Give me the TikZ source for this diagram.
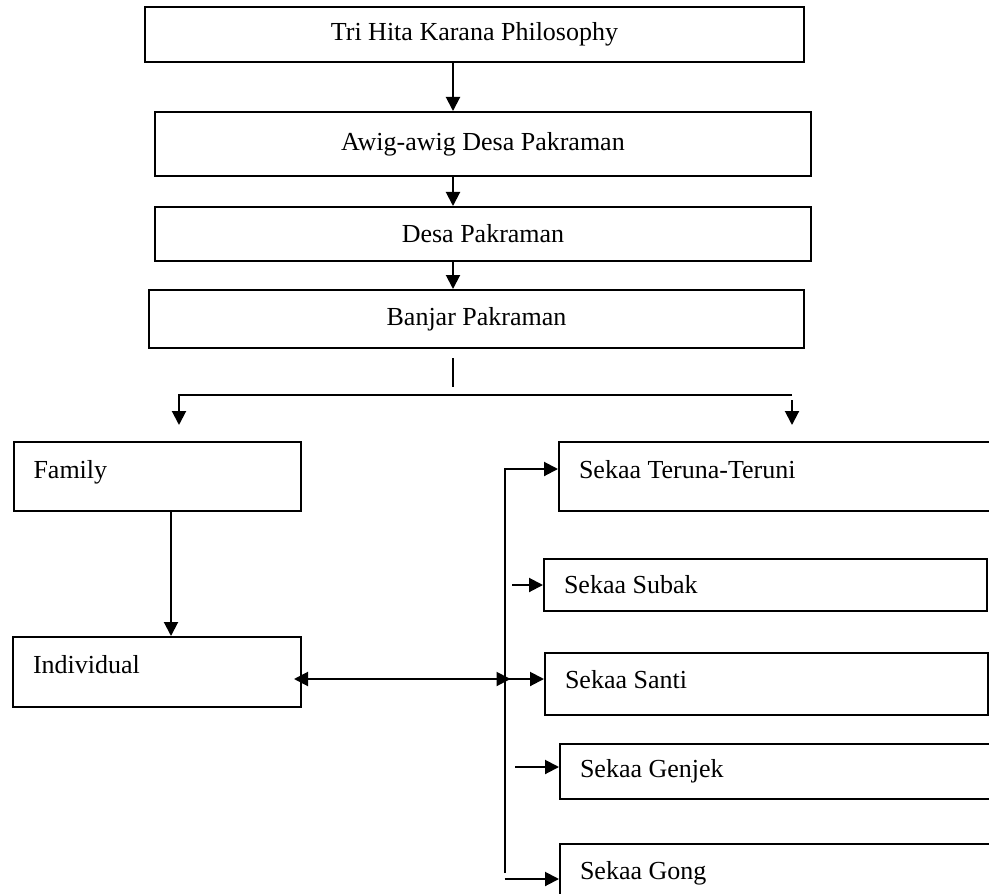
\documentclass[tikz,border=0pt]{standalone}
\usepackage{fontspec}
\setmainfont{Liberation Serif}
\usepackage{tikz}
\usetikzlibrary{arrows.meta,calc,positioning}

\begin{document}
\begin{tikzpicture}[x=0.5pt,y=-0.5pt,
    font=\fontsize{13pt}{15pt}\selectfont,
    >={Triangle[length=7pt,width=7pt]},
    block/.style={rectangle,draw,line width=1pt,inner sep=0pt},
    leftblock/.style={block,anchor=north west,align=flush left,inner xsep=10pt},
    connector/.style={->,line width=1pt},
    both/.style={<->,line width=1pt},
    line/.style={line width=1pt}]
    \useasboundingbox (0,0) rectangle (989,893);
    \clip (0,0) rectangle (989,893);
    % Top chain, one block under the other
    \node (philosophy) [block,minimum width=329.5pt,minimum height=27.5pt] at (474.5,34.5) {Tri Hita Karana Philosophy};
    \node (awig) [block,minimum width=328pt,minimum height=32pt] at (483,144) {Awig-awig Desa Pakraman};
    \node (desa) [block,minimum width=328pt,minimum height=27pt] at (483,234) {Desa Pakraman};
    \node (banjar) [block,minimum width=327.5pt,minimum height=29pt] at (476.5,319) {Banjar Pakraman};
    % Left column
    \node (family) [leftblock,text width=123.75pt,minimum height=34.5pt,text depth=7.5pt] at (12.5,441) {Family};
    \node (individual) [leftblock,text width=124pt,minimum height=35pt,text depth=7.5pt] at (12,636) {Individual};
    % Right column, boxes run past the page edge
    \node (teruna) [leftblock,text width=206pt,minimum height=34.5pt,text depth=7.5pt] at (558,441) {Sekaa Teruna-Teruni};
    \node (subak) [leftblock,text width=201.5pt,minimum height=26pt] at (543,558) {Sekaa Subak};
    \node (santi) [leftblock,text width=201.5pt,minimum height=31pt,text depth=5pt] at (544,652) {Sekaa Santi};
    \node (genjek) [leftblock,text width=205.5pt,minimum height=27.5pt] at (559,743) {Sekaa Genjek};
    \node (gong) [leftblock,text width=205.5pt,minimum height=29pt] at (559,843) {Sekaa Gong};

    % Helper coordinates for the free line ends
    \coordinate (stem) at (453,0);
    \coordinate (split_top) at (453,358);
    \coordinate (split_bot) at (453,387);
    \coordinate (split_left) at (179,395);
    \coordinate (split_right) at (792,395);
    \coordinate (family_in) at (179,425);
    \coordinate (teruna_out) at (792,400);
    \coordinate (teruna_in) at (792,425);
    \coordinate (down) at (171,0);
    \coordinate (bus_top) at (504.5,469);
    \coordinate (bus_bot) at (504.5,873);
    \coordinate (hub) at (504.5,679);
    \coordinate (subak_out) at (512,585);
    \coordinate (genjek_out) at (515,767);
    \coordinate (gong_out) at (504.5,879);

    \draw[connector] (philosophy.south -| stem) to (awig.north -| stem);
    \draw[connector] (awig.south -| stem) to (desa.north -| stem);
    \draw[connector] (desa.south -| stem) to (banjar.north -| stem);
    \draw[line width=0.7pt] (split_top) to (split_bot);
    \draw[connector] (split_right) -- (split_left) -- (family_in);
    \draw[connector] (teruna_out) to (teruna_in);
    \draw[connector] (family.south -| down) to (individual.north -| down);

    \draw[connector] (bus_bot) -- (bus_top) -- (bus_top -| teruna.west);
    \draw[connector] (subak_out) to (subak_out -| subak.west);
    \draw[connector] (hub) to (hub -| santi.west);
    \draw[both,shorten <=-4pt,shorten >=-3pt] (individual.east |- hub) to (hub);
    \draw[connector] (genjek_out) to (genjek_out -| genjek.west);
    \draw[connector] (gong_out) to (gong_out -| gong.west);
\end{tikzpicture}
\end{document}
